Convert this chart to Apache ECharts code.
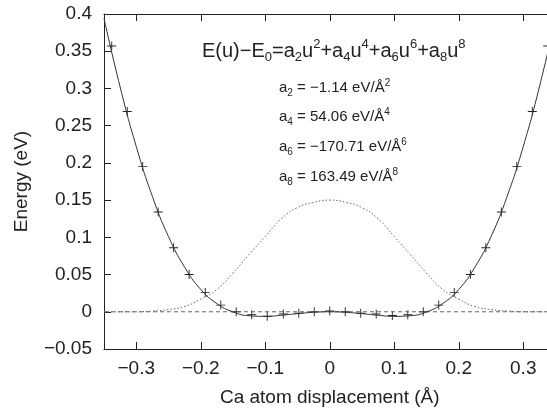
<!DOCTYPE html>
<html>
<head>
<meta charset="utf-8">
<script src="https://cdn.jsdelivr.net/npm/echarts@6/dist/echarts.min.js"></script>
<style>
html,body{margin:0;padding:0;background:#fff;}
#c{width:547px;height:410px;}
</style>
</head>
<body>
<div id="c"></div>
<script>
// ---- data ----
const crossU = [-0.338,-0.314,-0.290,-0.266,-0.242,-0.218,-0.193,-0.169,-0.145,-0.121,-0.097,-0.072,-0.048,-0.024,0,0.024,0.048,0.072,0.097,0.121,0.145,0.169,0.193,0.218,0.242,0.266,0.290,0.314,0.338];
const crossE = [0.357,0.269,0.195,0.134,0.086,0.050,0.026,0.009,0.000,-0.004,-0.006,-0.003,-0.002,0.000,0.001,0.000,-0.002,-0.003,-0.005,-0.004,0.000,0.009,0.026,0.050,0.086,0.134,0.195,0.269,0.357];

const fitU = [-0.35,-0.325,-0.3,-0.275,-0.25,-0.225,-0.2,-0.175,-0.15,-0.125,-0.1,-0.075,-0.05,-0.025,0,0.025,0.05,0.075,0.1,0.125,0.15,0.175,0.2,0.225,0.25,0.275,0.3,0.325,0.35];
const fitE = [0.394,0.302,0.222,0.155,0.101,0.060,0.030,0.011,-0.0002,-0.0053,-0.0062,-0.0047,-0.0025,-0.0007,0,-0.0007,-0.0025,-0.0047,-0.0062,-0.0053,-0.0002,0.011,0.030,0.060,0.101,0.155,0.222,0.302,0.394];

const distU = [-0.35,-0.325,-0.3,-0.275,-0.25,-0.225,-0.2,-0.175,-0.15,-0.125,-0.1,-0.075,-0.05,-0.025,0,0.025,0.05,0.075,0.1,0.125,0.15,0.175,0.2,0.225,0.25,0.275,0.3,0.325,0.35];
const distE = [0,0,0,0.001,0.003,0.007,0.017,0.030,0.052,0.077,0.101,0.125,0.140,0.147,0.150,0.147,0.140,0.125,0.101,0.077,0.052,0.030,0.017,0.007,0.003,0.001,0,0,0];

const zeroU = [-0.35, 0.35];
const zeroE = [0, 0];

const xTicks = [-0.3,-0.2,-0.1,0,0.1,0.2,0.3];
const xTickLabels = ['\u22120.3','\u22120.2','\u22120.1','0','0.1','0.2','0.3'];
const yTicks = [-0.05,0,0.05,0.1,0.15,0.2,0.25,0.3,0.35,0.4];
const yTickLabels = ['\u22120.05','0','0.05','0.1','0.15','0.2','0.25','0.3','0.35','0.4'];

const coefNames = ['2','4','6','8'];
const coefValues = ['\u22121.14','54.06','\u2212170.71','163.49'];

// ---- chart ----
const FONT = '"Liberation Sans", Arial, Helvetica, sans-serif';
const INK = '#222';
const zip = (a, b) => a.map((v, i) => [v, b[i]]);
const labelFor = (ticks, labels) => v => {
  const i = ticks.findIndex(t => Math.abs(t - v) < 1e-6);
  return i >= 0 ? labels[i] : '';
};

const chart = echarts.init(document.getElementById('c'), null, {renderer: 'canvas'});

const titleRich = {
  n: {fontSize: 20, lineHeight: 26, fontFamily: FONT, color: INK},
  sb: {fontSize: 13, lineHeight: 13, verticalAlign: 'bottom', fontFamily: FONT, color: INK},
  sp: {fontSize: 13, lineHeight: 13, verticalAlign: 'top', fontFamily: FONT, color: INK}
};
const coefRich = {
  n: {fontSize: 15, lineHeight: 20, fontFamily: FONT, color: INK},
  sb: {fontSize: 10, lineHeight: 10, verticalAlign: 'bottom', fontFamily: FONT, color: INK},
  sp: {fontSize: 10, lineHeight: 10, verticalAlign: 'top', fontFamily: FONT, color: INK}
};
const titleText = '{n|E(u)\u2212E}{sb|0}{n|=a}{sb|2}{n|u}{sp|2}{n|+a}{sb|4}{n|u}{sp|4}{n|+a}{sb|6}{n|u}{sp|6}{n|+a}{sb|8}{n|u}{sp|8}';
const coefY = [88, 117, 147, 177];
const graphics = [{
  type: 'text', x: 202, y: 51,
  style: {text: titleText, rich: titleRich, verticalAlign: 'middle', align: 'left', fill: INK}
}];
coefNames.forEach((k, i) => {
  graphics.push({
    type: 'text', x: 279, y: coefY[i],
    style: {
      text: '{n|a}{sb|' + k + '}{n| = ' + coefValues[i] + ' eV/\u00C5}{sp|' + k + '}',
      rich: coefRich, verticalAlign: 'middle', align: 'left', fill: INK
    }
  });
});

const axisLineStyle = {color: INK, width: 1};

const option = {
  backgroundColor: '#fff',
  animation: false,
  grid: {left: 104, right: -8.5, top: 14, bottom: 61, containLabel: false, outerBoundsMode: 'none'},
  xAxis: [{
    type: 'value', min: -0.35, max: 0.35, position: 'bottom',
    name: 'Ca atom displacement (\u00C5)', nameLocation: 'middle', nameGap: 39,
    nameTextStyle: {fontSize: 19, fontFamily: FONT, color: INK},
    axisLine: {show: true, onZero: false, lineStyle: axisLineStyle},
    axisTick: {show: true, inside: true, length: 7, customValues: xTicks, lineStyle: axisLineStyle},
    axisLabel: {show: true, customValues: xTicks, formatter: labelFor(xTicks, xTickLabels), fontSize: 19, fontFamily: FONT, color: INK, margin: 10},
    splitLine: {show: false}
  }, {
    type: 'value', min: -0.35, max: 0.35, position: 'top',
    axisLine: {show: true, onZero: false, lineStyle: axisLineStyle},
    axisTick: {show: true, inside: true, length: 7, customValues: xTicks, lineStyle: axisLineStyle},
    axisLabel: {show: false},
    splitLine: {show: false}
  }],
  yAxis: [{
    type: 'value', min: -0.05, max: 0.4, interval: 0.05, position: 'left',
    name: 'Energy (eV)', nameLocation: 'middle', nameGap: 73, nameRotate: 90,
    nameTextStyle: {fontSize: 19, fontFamily: FONT, color: INK},
    axisLine: {show: true, onZero: false, lineStyle: axisLineStyle},
    axisTick: {show: true, inside: true, length: 7, lineStyle: axisLineStyle},
    axisLabel: {formatter: labelFor(yTicks, yTickLabels), fontSize: 19, fontFamily: FONT, color: INK, margin: 12},
    splitLine: {show: false}
  }, {
    type: 'value', min: -0.05, max: 0.4, interval: 0.05, position: 'right',
    axisLine: {show: true, onZero: false, lineStyle: axisLineStyle},
    axisTick: {show: true, inside: true, length: 7, lineStyle: axisLineStyle},
    axisLabel: {show: false},
    splitLine: {show: false}
  }],
  series: [{
    type: 'line', data: zip(zeroU, zeroE), symbol: 'none', silent: true,
    lineStyle: {color: '#666', width: 1, type: [4, 3]}
  }, {
    type: 'line', data: zip(distU, distE), symbol: 'none', smooth: true, silent: true,
    lineStyle: {color: '#666', width: 1, type: [1.5, 2]}
  }, {
    type: 'line', data: zip(fitU, fitE), symbol: 'none', smooth: true, silent: true,
    lineStyle: {color: '#333', width: 1}
  }, {
    type: 'scatter', data: zip(crossU, crossE), silent: true,
    symbol: 'path://M0,4.5 H10 V5.5 H0 Z M4.5,0 H5.5 V10 H4.5 Z', symbolSize: 9,
    itemStyle: {color: '#222', opacity: 1}
  }]
};
chart.setOption(option);
chart.setOption({graphic: graphics});
</script>
</body>
</html>
